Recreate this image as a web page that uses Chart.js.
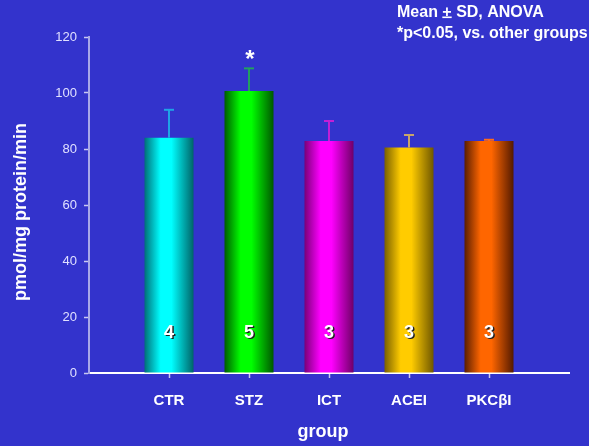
<!DOCTYPE html>
<html>
<head>
<meta charset="utf-8">
<script src="https://cdn.jsdelivr.net/npm/chart.js@4.4.1/dist/chart.umd.min.js"></script>
<style>
  html, body { margin: 0; padding: 0; background: #3333cc; }
  #wrap { width: 589px; height: 446px; position: relative; }
</style>
</head>
<body>
<div id="wrap"><canvas id="c"></canvas></div>
<script>
// Groups, means, standard deviations and group sizes
const groups = ['CTR', 'STZ', 'ICT', 'ACEI', 'PKC\u03B2I'];
const means = [84.0, 100.7, 82.9, 80.5, 82.9];
const sds = [10.0, 8.1, 7.1, 4.5, 0.4];
const nCounts = [4, 5, 3, 3, 3];
const significant = [false, true, false, false, false];
const yTicks = [0, 20, 40, 60, 80, 100, 120];

// Cylinder shading: dark edge, bright core, dark edge
const barShades = [
  ['#006f78', '#00ffff', '#006468'],
  ['#005c00', '#00ff00', '#005800'],
  ['#7a0078', '#ff00ff', '#700068'],
  ['#7a6000', '#ffcc00', '#705800'],
  ['#5a1e00', '#ff6600', '#541a00']
];
const errColors = ['#1fa3e6', '#22a060', '#c21fd6', '#c8a46a', '#ff6a1a'];

const BAR_FRACTION = 0.6125;
const FONT = '"Liberation Sans", Arial, sans-serif';

const points = groups.map((g, i) => ({ x: i + 1, y: means[i] }));

function shadeFor(ctx) {
  const i = ctx.dataIndex;
  const s = barShades[i] || barShades[0];
  const chart = ctx.chart;
  const xs = chart.scales && chart.scales.x;
  if (!xs || ctx.type !== 'data') return s[1];
  const cx = xs.getPixelForValue(i + 1);
  const half = (xs.getPixelForValue(1) - xs.getPixelForValue(0)) * BAR_FRACTION / 2;
  if (!isFinite(cx) || !isFinite(half) || half <= 0) return s[1];
  const g = chart.ctx.createLinearGradient(cx - half, 0, cx + half, 0);
  g.addColorStop(0, s[0]);
  g.addColorStop(0.33, s[1]);
  g.addColorStop(0.55, s[1]);
  g.addColorStop(1, s[2]);
  return g;
}

// Error bars, group sizes, significance star and side notes
const annotations = {
  id: 'annotations',
  afterDatasetsDraw(chart) {
    const c = chart.ctx;
    const ys = chart.scales.y;
    const meta = chart.getDatasetMeta(0);
    c.save();
    meta.data.forEach((el, i) => {
      const top = ys.getPixelForValue(means[i] + sds[i]);
      c.strokeStyle = errColors[i];
      c.lineWidth = 2;
      c.beginPath();
      c.moveTo(el.x, el.y);
      c.lineTo(el.x, top);
      c.stroke();
      c.beginPath();
      c.moveTo(el.x - 5, top);
      c.lineTo(el.x + 5, top);
      c.stroke();

      // group size inside the bar
      const ny = ys.getPixelForValue(0) - 40;
      c.font = 'bold 18px ' + FONT;
      c.textAlign = 'center';
      c.textBaseline = 'middle';
      c.fillStyle = '#202020';
      c.fillText(String(nCounts[i]), el.x + 1.5, ny + 1.5);
      c.fillStyle = '#ffffff';
      c.fillText(String(nCounts[i]), el.x, ny);

      if (significant[i]) {
        c.font = 'bold 24px ' + FONT;
        c.fillStyle = '#ffffff';
        c.textBaseline = 'alphabetic';
        c.fillText('*', el.x + 1, top - 1);
      }
    });

    // axis titles
    c.fillStyle = '#ffffff';
    c.font = 'bold 18px ' + FONT;
    c.textAlign = 'center';
    c.textBaseline = 'middle';
    c.fillText('group', 323, 432);
    c.save();
    c.translate(21, 212);
    c.rotate(-Math.PI / 2);
    c.fillText('pmol/mg protein/min', 0, 0);
    c.restore();

    // statistics note
    c.font = 'bold 16px ' + FONT;
    c.textAlign = 'left';
    c.textBaseline = 'alphabetic';
    let x = 397;
    const y1 = 17;
    c.fillText('Mean ', x, y1);
    x += c.measureText('Mean ').width;
    const pw = c.measureText('+').width;
    c.fillText('+', x, y1);
    c.fillRect(x, y1 - 0.5, pw, 1.6);
    x += pw;
    c.fillText(' SD, ANOVA', x, y1);
    c.fillText('*p<0.05, vs. other groups', 397, 38);
    c.restore();
  }
};

new Chart(document.getElementById('c'), {
  type: 'bar',
  data: {
    datasets: [{
      data: points,
      backgroundColor: shadeFor,
      borderWidth: 0,
      barPercentage: BAR_FRACTION,
      categoryPercentage: 1
    }]
  },
  options: {
    responsive: true,
    maintainAspectRatio: false,
    animation: false,
    layout: { padding: { top: 37, right: 20, left: 0, bottom: 0 } },
    plugins: { legend: { display: false }, tooltip: { enabled: false } },
    scales: {
      x: {
        type: 'linear',
        min: 0,
        max: 6,
        offset: false,
        afterBuildTicks(s) { s.ticks = groups.map((g, i) => ({ value: i + 1 })); },
        afterFit(s) { s.height = 73; },
        ticks: {
          callback: (v) => groups[v - 1] || '',
          color: '#ffffff',
          font: { family: FONT, size: 15, weight: 'bold' },
          padding: 14,
          maxRotation: 0,
          autoSkip: false
        },
        grid: { offset: false, drawOnChartArea: false, tickLength: 5, tickColor: '#c8c8f0', tickWidth: 1.5 },
        border: { color: '#ffffff', width: 2 }
      },
      y: {
        min: 0,
        max: 120,
        afterBuildTicks(s) { s.ticks = yTicks.map(v => ({ value: v })); },
        afterFit(s) { s.width = 89; },
        ticks: {
          color: '#e0e0ff',
          font: { family: FONT, size: 13 },
          padding: 7
        },
        grid: { drawOnChartArea: false, tickLength: 5, tickColor: '#c8c8f0', tickWidth: 1.5 },
        border: { color: '#a8a8e8', width: 2 }
      }
    }
  },
  plugins: [annotations]
});
</script>
</body>
</html>
